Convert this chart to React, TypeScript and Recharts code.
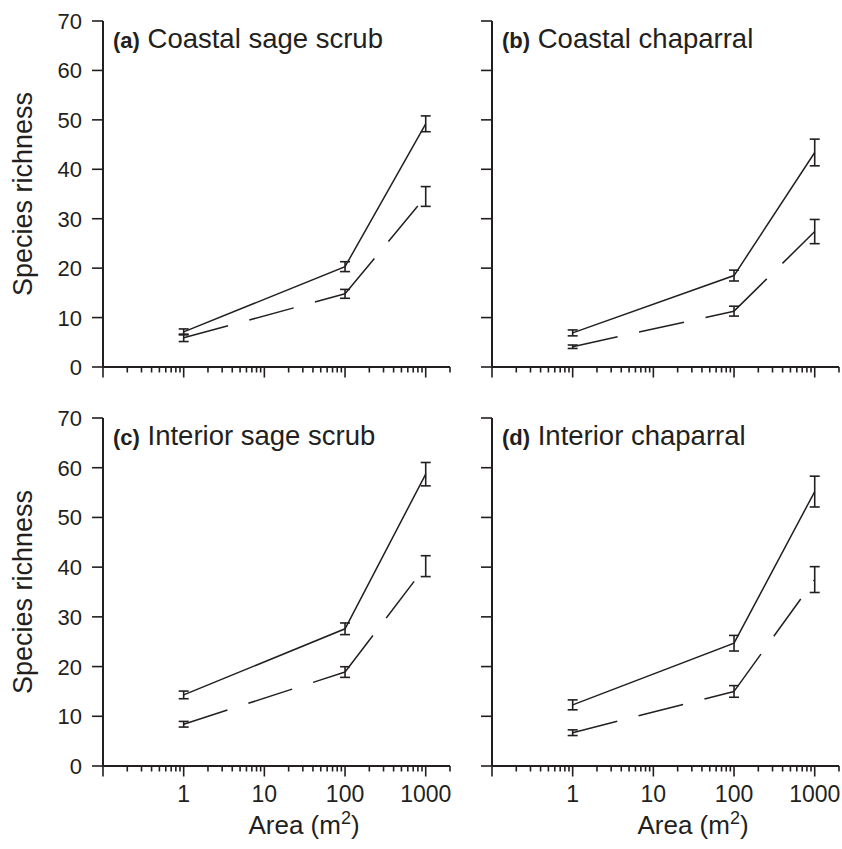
import React from 'react';
import { LineChart, Line, XAxis, YAxis, ErrorBar, Customized } from 'recharts';

const INK = '#231f20';
const FONT = '"Liberation Sans", Arial, Helvetica, sans-serif';

// sampling areas (m2)
const areas = [1, 100, 1000];

// axis ticks
const majorTicks = [0.1, 1, 10, 100, 1000];
const minorSteps = [2, 3, 4, 5, 6, 7, 8, 9];
const labelledTicks = [1, 10, 100, 1000];
const xTickLabels = ['1', '10', '100', '1000'];
const yTicks = [0, 10, 20, 30, 40, 50, 60, 70];

// (a) Coastal sage scrub
const csSolid = [7.1, 20.3, 49.2];
const csSolidErr = [0.6, 1.0, 1.6];
const csDashed = [5.9, 14.8, 34.5];
const csDashedErr = [0.75, 0.9, 2.0];

// (b) Coastal chaparral
const ccSolid = [6.9, 18.5, 43.4];
const ccSolidErr = [0.6, 1.1, 2.7];
const ccDashed = [4.1, 11.3, 27.4];
const ccDashedErr = [0.35, 1.0, 2.45];

// (c) Interior sage scrub
const isSolid = [14.3, 27.6, 58.7];
const isSolidErr = [0.77, 1.17, 2.35];
const isDashed = [8.4, 18.9, 40.2];
const isDashedErr = [0.57, 1.07, 2.1];

// (d) Interior chaparral
const icSolid = [12.3, 24.7, 55.2];
const icSolidErr = [1.0, 1.57, 3.1];
const icDashed = [6.7, 15.0, 37.5];
const icDashedErr = [0.57, 1.17, 2.6];

const xTicks: number[] = [];
majorTicks.forEach((d) => {
  xTicks.push(d);
  minorSteps.forEach((m) => {
    if (d * m <= 2000) xTicks.push(d * m);
  });
});

const buildRows = (solid: number[], solidErr: number[], dashed: number[], dashedErr: number[]) =>
  areas.map((a, i) => ({
    area: a,
    solid: solid[i],
    solidErr: solidErr[i],
    dashed: dashed[i],
    dashedErr: dashedErr[i],
    // dashed line split in two so the dash pattern restarts at each point
    dashA: i <= 1 ? dashed[i] : null,
    dashB: i >= 1 ? dashed[i] : null,
  }));

const YW = 103;
const PLOT_W = 347;
const XH = 75;
const MT = 21;

interface PanelProps {
  left: number;
  top: number;
  plotH: number;
  tag: string;
  title: string;
  rows: ReturnType<typeof buildRows>;
  showY: boolean;
  showX: boolean;
}

const Panel = ({ left, top, plotH, tag, title, rows, showY, showX }: PanelProps) => {
  const width = YW + PLOT_W + 2;
  const height = MT + plotH + XH;

  const xTick = (props: any) => {
    const { x, y, payload } = props;
    const v = payload.value;
    const major = majorTicks.some((m) => Math.abs(m - v) < 1e-9);
    const li = labelledTicks.findIndex((m) => Math.abs(m - v) < 1e-9);
    return (
      <g>
        <line x1={x} x2={x} y1={y} y2={y + (major ? 10.5 : 5.5)} stroke={INK} strokeWidth={1.6} />
        {showX && li >= 0 && (
          <text x={x} y={y + 36} textAnchor="middle" fontSize={23} fill={INK} fontFamily={FONT}>
            {xTickLabels[li]}
          </text>
        )}
      </g>
    );
  };

  const yTick = (props: any) => {
    const { x, y, payload } = props;
    return (
      <g>
        <line x1={x - 11} x2={x} y1={y} y2={y} stroke={INK} strokeWidth={1.6} />
        {showY && (
          <text x={x - 21} y={y + 8} textAnchor="end" fontSize={22} fill={INK} fontFamily={FONT}>
            {payload.value}
          </text>
        )}
      </g>
    );
  };

  const Labels = () => (
    <g fontFamily={FONT} fill={INK}>
      <text x={YW + 10} y={MT + 27}>
        <tspan fontWeight="bold" fontSize={22}>{tag}</tspan>
        <tspan fontSize={27.5}> {title}</tspan>
      </text>
      {showY && (
        <text
          x={32}
          y={MT + plotH / 2}
          fontSize={27}
          textAnchor="middle"
          transform={`rotate(-90 32 ${MT + plotH / 2})`}
        >
          Species richness
        </text>
      )}
      {showX && (
        <text x={YW + 201} y={MT + plotH + 68} fontSize={26} textAnchor="middle">
          Area (m<tspan fontSize={18} dy={-10}>2</tspan>
          <tspan dy={10}>)</tspan>
        </text>
      )}
    </g>
  );

  return (
    <div style={{ position: 'absolute', left: left - YW, top: top - MT, width, height }}>
      <LineChart width={width} height={height} data={rows} margin={{ top: MT, right: 2, bottom: 0, left: 0 }}>
        <XAxis
          dataKey="area"
          type="number"
          scale="log"
          domain={[0.1, 2000]}
          ticks={xTicks}
          interval={0}
          height={XH}
          tickLine={false}
          tickSize={0}
          tickMargin={0}
          tick={xTick}
          axisLine={{ stroke: INK, strokeWidth: 2 }}
          allowDataOverflow
        />
        <YAxis
          type="number"
          domain={[0, 70]}
          ticks={yTicks}
          interval={0}
          width={YW}
          tickLine={false}
          tickSize={0}
          tickMargin={0}
          tick={yTick}
          axisLine={{ stroke: INK, strokeWidth: 2 }}
        />
        <Line
          dataKey="solid"
          stroke={INK}
          strokeWidth={1.5}
          dot={false}
          activeDot={false}
          isAnimationActive={false}
        >
          <ErrorBar dataKey="solidErr" direction="y" width={5} stroke={INK} strokeWidth={1.6} />
        </Line>
        <Line
          dataKey="dashed"
          stroke="none"
          dot={false}
          activeDot={false}
          isAnimationActive={false}
        >
          <ErrorBar dataKey="dashedErr" direction="y" width={5} stroke={INK} strokeWidth={1.6} />
        </Line>
        <Line
          dataKey="dashA"
          stroke={INK}
          strokeWidth={1.5}
          strokeDasharray="46 22"
          dot={false}
          activeDot={false}
          connectNulls={false}
          isAnimationActive={false}
        />
        <Line
          dataKey="dashB"
          stroke={INK}
          strokeWidth={1.5}
          strokeDasharray="46 22"
          dot={false}
          activeDot={false}
          connectNulls={false}
          isAnimationActive={false}
        />
        <Customized component={<Labels />} />
      </LineChart>
    </div>
  );
}
;

export default function App() {
  return (
    <div style={{ position: 'absolute', left: 0, top: 0, width: 842, height: 849, background: '#fff' }}>
      <Panel left={103} top={21} plotH={346} tag="(a)" title="Coastal sage scrub"
        rows={buildRows(csSolid, csSolidErr, csDashed, csDashedErr)} showY showX={false} />
      <Panel left={492} top={21} plotH={346} tag="(b)" title="Coastal chaparral"
        rows={buildRows(ccSolid, ccSolidErr, ccDashed, ccDashedErr)} showY={false} showX={false} />
      <Panel left={103} top={418} plotH={348} tag="(c)" title="Interior sage scrub"
        rows={buildRows(isSolid, isSolidErr, isDashed, isDashedErr)} showY showX />
      <Panel left={492} top={418} plotH={348} tag="(d)" title="Interior chaparral"
        rows={buildRows(icSolid, icSolidErr, icDashed, icDashedErr)} showY={false} showX />
    </div>
  );
}
